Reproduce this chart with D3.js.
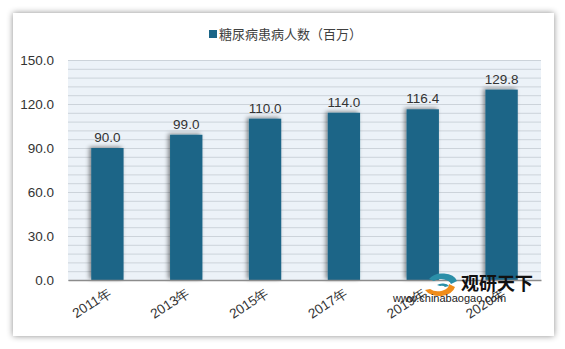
<!DOCTYPE html>
<html><head><meta charset="utf-8">
<script src="https://cdn.jsdelivr.net/npm/d3@7"></script>
<style>
html,body{margin:0;padding:0;background:#ffffff;}
svg{display:block;font-family:"Noto Sans CJK SC","Liberation Sans",sans-serif;}
</style></head>
<body>
<svg id="c" width="565" height="349"></svg>
<script>
const categories = ["2011年","2013年","2015年","2017年","2019年","2020年"];
const values = [90.0, 99.0, 110.0, 114.0, 116.4, 129.8];
const yTicks = [0, 30, 60, 90, 120, 150];
const seriesName = "糖尿病患病人数（百万）";

const svg = d3.select("#c");
const defs = svg.append("defs");
const f1 = defs.append("filter").attr("id","card").attr("x","-5%").attr("y","-5%").attr("width","110%").attr("height","110%");
f1.append("feDropShadow").attr("dx",0).attr("dy",0).attr("stdDeviation",3).attr("flood-color","#000").attr("flood-opacity",0.45);
const f2 = defs.append("filter").attr("id","bs").attr("x","-50%").attr("y","-20%").attr("width","200%").attr("height","140%");
f2.append("feDropShadow").attr("dx",-2).attr("dy",-1).attr("stdDeviation",2.2).attr("flood-color","#000").attr("flood-opacity",0.45);

svg.append("rect").attr("x",13).attr("y",13).attr("width",541).attr("height",323)
  .attr("fill","#fff").attr("filter","url(#card)");

const L=68,R=541,T=60,B=280;
const x = d3.scaleBand().domain(categories).range([L,R]).paddingInner(0.59).paddingOuter(0.295);
const y = d3.scaleLinear().domain([0,150]).range([B,T]);

svg.append("rect").attr("x",L).attr("y",T).attr("width",R-L).attr("height",B-T).attr("fill","#ecf2f8");

const minor = d3.range(0,151,6);
svg.append("g").selectAll("line").data(minor).join("line")
  .attr("x1",L).attr("x2",R).attr("y1",d=>y(d)+0.5).attr("y2",d=>y(d)+0.5)
  .attr("stroke","#ccd3da").attr("stroke-width",1);

const yAxis = d3.axisLeft(y).tickValues(yTicks).tickFormat(d3.format(".1f")).tickSize(0).tickPadding(14);
const gy = svg.append("g").attr("transform",`translate(${L},0)`).call(yAxis);
gy.select(".domain").remove();
gy.selectAll("text").attr("font-size",13.5).attr("fill","#333").attr("font-family","'Liberation Sans','DejaVu Sans',sans-serif");

svg.append("g").selectAll("rect").data(values).join("rect")
  .attr("x",(d,i)=>x(categories[i])).attr("width",x.bandwidth())
  .attr("y",d=>y(d)).attr("height",d=>B-y(d))
  .attr("fill","#1b6587").attr("filter","url(#bs)");

svg.append("g").selectAll("text").data(values).join("text")
  .attr("x",(d,i)=>x(categories[i])+x.bandwidth()/2).attr("y",d=>y(d)-6)
  .attr("text-anchor","middle").attr("font-size",13.5).attr("fill","#333")
  .attr("font-family","'Liberation Sans','DejaVu Sans',sans-serif")
  .text(d=>d.toFixed(1));

const xAxis = d3.axisBottom(x).tickSize(0).tickPadding(0);
const gx = svg.append("g").attr("transform",`translate(0,${B})`).call(xAxis);
gx.select(".domain").attr("stroke","#8c8c8c").attr("stroke-width",1.5);
gx.selectAll("text").attr("font-size",13.5).attr("fill","#333")
  .attr("text-anchor","end").attr("dy",0)
  .attr("transform","translate(5,15) rotate(-33)");

// legend
svg.append("rect").attr("x",209).attr("y",30).attr("width",8).attr("height",8).attr("fill","#1b6587");
svg.append("text").attr("x",219).attr("y",39).attr("font-size",13).attr("fill","#404040").text(seriesName);

// watermark
const wm = svg.append("g");
wm.append("path").attr("d","M425,290 A16,11 0 0 0 455,287 L449,284 A11,7 0 0 1 430,289 Z").attr("fill","#f08c1a");
wm.append("path").attr("d","M429,279 A15,10 0 0 1 457,281 L451,284 A10,6 0 0 0 434,281 Z").attr("fill","#2b8fa8");
wm.append("path").attr("d","M437,285 A7,4 0 0 1 449,286 L445,287 A4,2 0 0 0 440,286 Z").attr("fill","#2b8fa8");
wm.append("text").attr("x",461).attr("y",290).attr("font-size",18).attr("font-weight","bold").attr("fill","#111").text("观研天下");
wm.append("text").attr("x",393).attr("y",302).attr("font-size",11).attr("fill","#222")
  .attr("font-family","'Liberation Sans',sans-serif").text("www.chinabaogao.com");
</script>
</body></html>
